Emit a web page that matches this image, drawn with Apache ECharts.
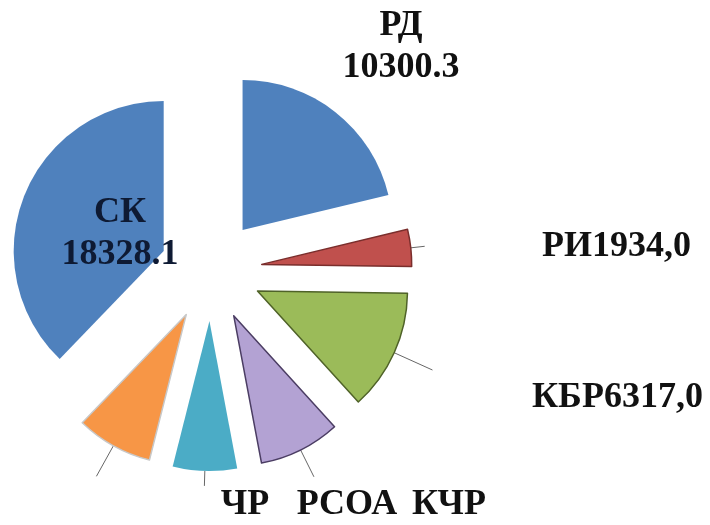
<!DOCTYPE html>
<html>
<head>
<meta charset="utf-8">
<script src="https://cdn.jsdelivr.net/npm/echarts@6/dist/echarts.min.js"></script>
<style>
  html, body { margin: 0; background: #fff; }
  #main { width: 710px; height: 525px; }
</style>
</head>
<body>
<div id="main"></div>
<script>
// data, clockwise from 12 o'clock
const regions = ['РД', 'РИ', 'КБР', 'КЧР', 'РСОА', 'ЧР', 'СК']
const values = [10300.3, 1934.0, 6317.0, 4250, 3350, 4000, 18328.1]
const labelTexts = ['РД\n10300.3', 'РИ1934,0', 'КБР6317,0', 'КЧР', 'РСОА', 'ЧР', 'СК\n18328.1']

// styles
const colors = ['#4f81bd', '#c0504d', '#9bbb59', '#b3a2d3', '#4bacc6', '#f79646', '#4f81bd']
const borders = [null, '#7a2e2c', '#4f6228', '#4b3d63', null, '#c8c8c8', null]
const textColors = ['#111', '#111', '#111', '#111', '#111', '#111', '#0e1a33']
// label placement [x, y, align] and leader line length
const labelPos = [
  [401, 47, 'center'],
  [542, 247, 'left'],
  [532, 398, 'left'],
  [449, 505, 'center'],
  [347, 505, 'center'],
  [245, 505, 'center'],
  [120, 234, 'center']
]
const lineLen = [0, 14, 42, 30, 15, 35, 0]

const chart = echarts.init(document.getElementById('main'))

// exploded slices with short leader stubs
const sliceData = regions.map((name, i) => {
  return {
    name: name,
    value: values[i],
    selected: true,
    itemStyle: {
      color: colors[i],
      borderColor: borders[i] || colors[i],
      borderWidth: borders[i] ? 1.5 : 0
    },
    label: { show: lineLen[i] > 0 },
    labelLine: {
      show: lineLen[i] > 0,
      length: lineLen[i],
      length2: 0
    }
  }
})

// same values again, invisible, only to carry the labels
const labelData = regions.map((name, i) => {
  return { name: name, value: values[i], label: { color: textColors[i] } }
})

chart.setOption({
  animation: false,
  series: [
    {
      type: 'pie',
      z: 2,
      center: [211, 270],
      radius: 150,
      startAngle: 90,
      clockwise: true,
      selectedMode: 'multiple',
      selectedOffset: 51,
      avoidLabelOverlap: false,
      silent: true,
      data: sliceData,
      label: {
        position: 'outside',
        formatter: ' ',
        fontSize: 2,
        color: 'transparent'
      },
      labelLine: {
        lineStyle: { color: '#666', width: 1 }
      }
    },
    {
      type: 'pie',
      z: 5,
      center: [211, 270],
      radius: 150,
      startAngle: 90,
      clockwise: true,
      avoidLabelOverlap: false,
      silent: true,
      data: labelData,
      itemStyle: { color: 'transparent', borderWidth: 0 },
      label: {
        show: true,
        position: 'outside',
        formatter: (p) => labelTexts[p.dataIndex],
        fontFamily: 'Liberation Serif',
        fontWeight: 'bold',
        fontSize: 36,
        lineHeight: 42,
        color: '#111'
      },
      labelLine: { show: false },
      labelLayout: function (params) {
        const p = labelPos[params.dataIndex]
        return {
          x: p[0],
          y: p[1],
          align: p[2],
          verticalAlign: 'middle'
        }
      }
    }
  ]
})
</script>
</body>
</html>
